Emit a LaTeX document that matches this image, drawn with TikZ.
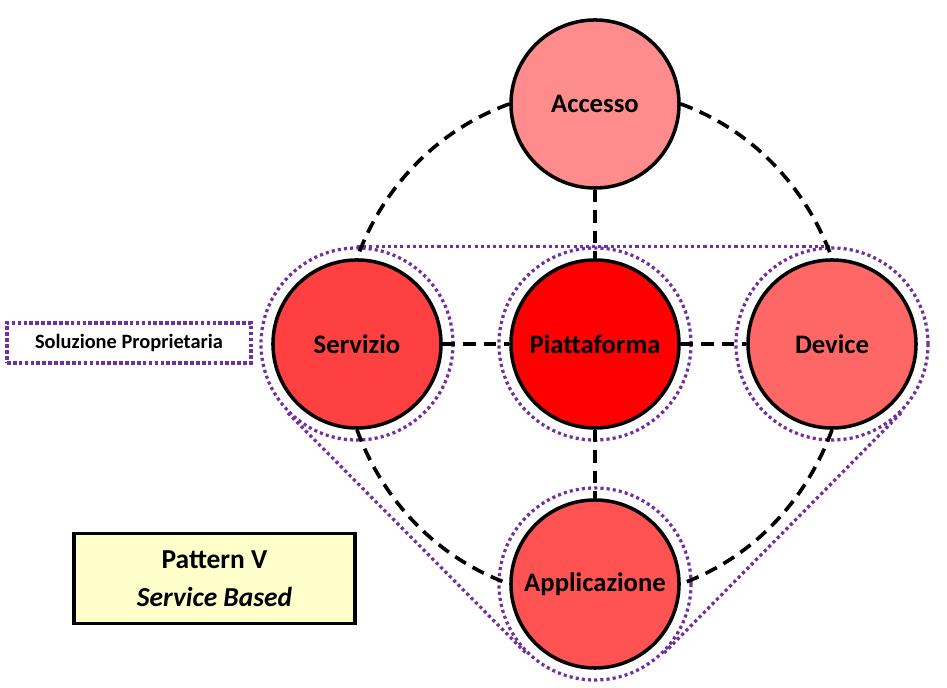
\documentclass[tikz,border=0pt]{standalone}
\usepackage{fontspec}
\setmainfont{Carlito}
\usetikzlibrary{positioning}

\definecolor{ringpurple}{RGB}{112,48,160}
\definecolor{accred}{RGB}{255,140,140}
\definecolor{servred}{RGB}{255,64,64}
\definecolor{piatred}{RGB}{255,0,0}
\definecolor{devred}{RGB}{255,102,102}
\definecolor{appred}{RGB}{255,82,82}
\definecolor{noteyellow}{RGB}{255,255,204}

\tikzset{
  block/.style={circle,draw=black,line width=2.5pt,minimum size=4.2cm,inner sep=0pt,
    font=\fontsize{19}{22}\selectfont\bfseries},
  ring/.style={circle,draw=ringpurple,line width=2.3pt,dash pattern=on 2.2pt off 2.2pt,
    minimum size=4.8cm,inner sep=0pt},
  hull/.style={draw=ringpurple,line width=2.3pt,dash pattern=on 2.2pt off 2.2pt},
  link/.style={draw=black,line width=2.6pt,dash pattern=on 9pt off 5.5pt},
}

\begin{document}
\begin{tikzpicture}[x=0.025cm,y=0.025cm]
     \useasboundingbox (0,0) rectangle (947,688);
     % dotted rings of the proprietary solution
     \node[ring](servring) at (357,344) {};
     \node[ring](piatring) at (595,344) {};
     \node[ring](devring) at (832,344) {};
     \node[ring](appring) at (595,104) {};
     \draw[hull] (servring.north) -- (devring.north);
     \draw[hull] (servring.225) -- (appring.225);
     \draw[hull] (devring.-45) -- (appring.-45);
     % blocks
     \node[block,fill=accred](acc) at (595,584) {Accesso};
     \node[block,fill=servred](serv) at (357,344) {Servizio};
     \node[block,fill=piatred](piat) at (595,344) {Piattaforma};
     \node[block,fill=devred](dev) at (832,344) {Device};
     \node[block,fill=appred](app) at (595,104) {Applicazione};
     % links
     \draw[link] (acc) -- (piat);
     \draw[link] (serv) -- (piat);
     \draw[link] (piat) -- (dev);
     \draw[link] (piat) -- (app);
     \draw[link] (acc.west) to[out=200,in=70,looseness=0.9] (serv.north);
     \draw[link] (acc.east) to[out=-20,in=110,looseness=0.9] (dev.north);
     \draw[link] (serv.south) to[out=-70,in=160,looseness=0.9] (app.west);
     \draw[link] (dev.south) to[out=250,in=20,looseness=0.9] (app.east);
     % notes
     \node[draw=ringpurple,line width=2.6pt,dash pattern=on 2.6pt off 1.6pt,
        minimum width=6.1cm,minimum height=1cm,inner sep=0pt,
        font=\fontsize{14.5}{16}\selectfont\bfseries](sol) at (129,345) {Soluzione Proprietaria};
     \node[draw=black,line width=2.8pt,fill=noteyellow,
        minimum width=7cm,minimum height=2.25cm,inner sep=0pt,align=center,
        font=\fontsize{19.5}{27}\selectfont\bfseries](pat) at (214.5,109.5)
        {Pattern V\\\textit{Service Based}};
\end{tikzpicture}
\end{document}
